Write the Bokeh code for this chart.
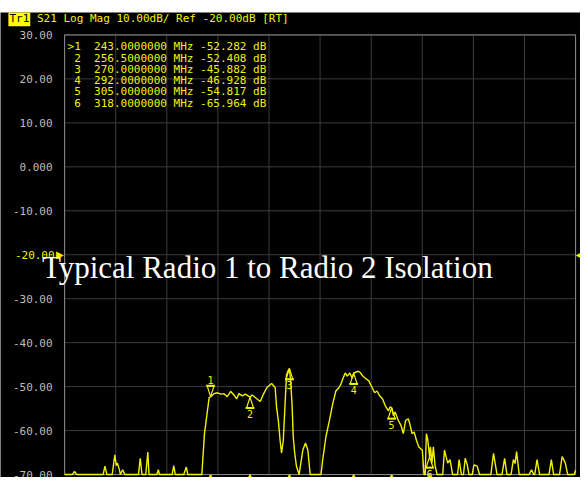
from bokeh.plotting import figure
from bokeh.models import Label, Range1d, ColumnDataSource
from bokeh.core.properties import value
from bokeh.embed import file_html
from bokeh.resources import INLINE

# ---------------- data ----------------
freq_start, freq_stop = 193.0, 368.0
db_top, db_bottom = 30.0, -70.0

y_ticks = [30, 20, 10, 0, -10, -20, -30, -40, -50, -60, -70]
y_tick_labels = ["30.00", "20.00", "10.00", "0.000", "-10.00", "-20.00",
                 "-30.00", "-40.00", "-50.00", "-60.00", "-70.00"]
ref_level = -20
x_divisions = 10

trace_freq = [
    193.0, 195.6, 196.4, 197.2, 206.2, 206.8, 207.5, 209.3, 210.2, 210.7,
    211.1, 211.8, 212.1, 212.9, 213.6, 218.3, 218.9, 219.5, 220.8, 221.5,
    221.9, 224.6, 225.1, 225.5, 229.8, 230.4, 230.9, 233.8, 234.7, 235.2,
    240.0, 240.9, 242.5, 243.0, 244.2, 245.4, 246.5, 247.6, 248.7, 249.9,
    251.0, 251.9, 252.7, 253.8, 254.9, 256.5, 257.2, 258.0, 258.9, 260.0,
    261.1, 262.3, 263.9, 265.1, 265.6, 266.2, 266.8, 267.3, 267.9, 268.5,
    269.0, 269.6, 270.0, 270.4, 270.9, 271.3, 271.8, 272.4, 273.3, 274.6,
    275.5, 276.3, 277.1, 280.8, 281.4, 282.5, 283.7, 284.8, 285.9, 287.0,
    287.6, 288.2, 289.1, 289.8, 290.7, 291.5, 292.0, 293.6, 294.4, 295.1,
    296.0, 297.2, 298.3, 299.2, 300.0, 300.9, 301.9, 302.8, 303.9, 304.5,
    305.0, 305.6, 306.2, 307.3, 308.2, 309.0, 309.8, 310.7, 311.2, 312.0,
    312.7, 313.5, 314.3, 315.2, 315.5, 316.1, 316.5, 316.9, 317.4, 318.0,
    318.3, 318.8, 319.3, 319.9, 320.6, 322.5, 323.1, 324.2, 325.0, 325.9,
    327.6, 328.1, 328.9, 329.6, 330.2, 330.9, 331.5, 332.6, 333.2, 334.3,
    335.1, 339.0, 339.9, 341.1, 342.8, 343.7, 344.5, 345.9, 346.7, 347.3,
    347.8, 348.7, 352.1, 352.9, 353.7, 354.0, 354.8, 355.7, 358.9, 359.7,
    360.5, 362.5, 363.4, 364.5, 365.3, 367.5, 368.0,
]
trace_db = [
    -70, -70, -69.3, -70, -70, -68.1, -70, -70, -65.5, -68.0,
    -67.4, -69.0, -70, -68.9, -70, -70, -66.3, -70, -70, -64.9,
    -70, -70, -68.9, -70, -70, -68.0, -70, -70, -68.3, -70,
    -70, -60.7, -52.5, -52.3, -51.6, -51.4, -51.7, -51.6, -52.3, -51.1,
    -51.9, -52.8, -51.6, -52.1, -51.7, -52.4, -51.9, -52.3, -52.8, -53.4,
    -51.7, -50.2, -49.3, -50.2, -54.7, -57.7, -62.2, -65.1, -62.2, -54.0,
    -47.3, -46.3, -45.9, -48.7, -54.0, -61.4, -65.1, -68.1, -70, -64.4,
    -62.8, -64.4, -70, -70, -66.6, -61.4, -57.7, -54.0, -51.0, -50.2,
    -49.5, -48.4, -46.9, -47.6, -46.9, -48.1, -46.9, -46.5, -46.9, -47.6,
    -48.1, -48.7, -50.2, -51.4, -51.0, -52.1, -52.8, -54.3, -55.5, -54.6,
    -54.8, -56.6, -55.8, -57.7, -58.8, -60.7, -57.7, -57.3, -58.4, -60.7,
    -60.3, -62.2, -63.7, -64.3, -64.4, -70, -70, -60.7, -62.2, -66.0,
    -63.7, -67.4, -63.7, -68.1, -70, -70, -64.4, -67.4, -66.6, -70,
    -70, -66.6, -70, -70, -66.3, -67.8, -70, -70, -67.8, -68.1,
    -70, -70, -65.2, -70, -70, -66.3, -70, -70, -66.6, -67.5,
    -64.8, -70, -70, -68.9, -70, -70, -66.6, -70, -70, -66.6,
    -70, -70, -65.9, -67.4, -70, -70, -69.0,
]

marker_ids = [1, 2, 3, 4, 5, 6]
marker_freq = [243.0, 256.5, 270.0, 292.0, 305.0, 318.0]
marker_db = [-52.282, -52.408, -45.882, -46.928, -54.817, -65.964]

header_tag = "Tr1"
header_text = "S21 Log Mag 10.00dB/ Ref -20.00dB [RT]"
title_text = "Typical Radio 1 to Radio 2 Isolation"

# ---------------- layout (reference-pixel helpers) ----------------
W, H = 580, 477            # canvas size (reference image is 588 x 485)
REF_W, REF_H = 588, 485
BOX_L, BOX_R, BOX_T, BOX_B = 65, 583, 35, 482   # graticule box in reference px
TOP_WHITE = 12             # white strip at the top of the canvas

MHZ_PX = (freq_stop - freq_start) / (BOX_R - BOX_L)
DB_PX = (db_top - db_bottom) / (BOX_B - BOX_T)


def fx(rx):
    return freq_start + (rx - BOX_L) * MHZ_PX


def fy(ry):
    return db_top - (ry - BOX_T) * DB_PX


top_ref = TOP_WHITE * REF_H / H

YEL = "#f2f200"
GRID = "#3c3c3c"
BORDER = "#8a8a8a"
MONO = "DejaVu Sans Mono"
NB = "\u00a0"

p = figure(width=W, height=H, output_backend="svg", toolbar_location=None,
           x_range=Range1d(fx(0), fx(REF_W)),
           y_range=Range1d(fy(REF_H), fy(top_ref)),
           x_axis_location=None, y_axis_location=None,
           min_border_left=0, min_border_right=0,
           min_border_top=TOP_WHITE, min_border_bottom=0,
           background_fill_color="black", border_fill_color="white")
p.outline_line_color = None
p.grid.visible = False

# graticule
x_grid = [freq_start + i * (freq_stop - freq_start) / x_divisions for i in range(x_divisions + 1)]
p.segment(x0=x_grid, y0=[db_bottom] * len(x_grid), x1=x_grid, y1=[db_top] * len(x_grid),
          line_color=GRID, line_width=1)
p.segment(x0=[freq_start] * len(y_ticks), y0=y_ticks, x1=[freq_stop] * len(y_ticks), y1=y_ticks,
          line_color=GRID, line_width=1)
p.quad(left=[freq_start], right=[freq_stop], bottom=[db_bottom], top=[db_top],
       fill_alpha=0, line_color=BORDER, line_width=1)

# y tick labels
lab_y = [v for v in y_ticks if v != ref_level]
lab_t = [t for v, t in zip(y_ticks, y_tick_labels) if v != ref_level]
p.text(x=[freq_start] * len(lab_y), y=lab_y, text=lab_t, x_offset=-12,
       text_align="right", text_baseline="middle", text_color="#bdbdbd",
       text_font=value(MONO), text_font_size="11px")

# reference level label and arrows
p.add_layout(Label(x=freq_start, y=ref_level, x_offset=-10,
                   text=y_tick_labels[y_ticks.index(ref_level)],
                   text_align="right", text_baseline="middle", text_color=YEL,
                   text_font=MONO, text_font_size="11px"))
p.add_layout(Label(x=freq_start, y=ref_level, x_offset=-1, text="\u25B6",
                   text_align="right", text_baseline="middle", text_color=YEL,
                   text_font="DejaVu Sans", text_font_size="10px"))
p.add_layout(Label(x=freq_stop, y=ref_level, x_offset=0, text="\u25C0",
                   text_align="left", text_baseline="middle", text_color=YEL,
                   text_font="DejaVu Sans", text_font_size="10px"))

# trace
p.line(trace_freq, trace_db, line_color=YEL, line_width=1.4)

# header
p.add_layout(Label(x=fx(8), y=fy(18.5), text=header_tag, text_align="left",
                   text_baseline="middle", text_color="black",
                   background_fill_color="#ffff00", padding=1,
                   text_font=MONO, text_font_size="11px"))
p.add_layout(Label(x=fx(37), y=fy(18.5), text=header_text.replace(" ", NB), text_align="left",
                   text_baseline="middle", text_color=YEL,
                   text_font=MONO, text_font_size="11px"))

# marker table
rows = []
for i, (mid, f, v) in enumerate(zip(marker_ids, marker_freq, marker_db)):
    s = f"{'>' if i == 0 else ' '}{mid}  {f:.7f} MHz {v:.3f} dB"
    rows.append(s.replace(" ", NB))
row_y = [fy(47 + 11.5 * i) for i in range(len(rows))]
p.text(x=[fx(68)] * len(rows), y=row_y, text=rows, text_color=YEL,
       text_font=value(MONO), text_font_size="11px",
       text_align="left", text_baseline="middle")

# marker symbols
tri_h = 11 * DB_PX
tri_w = 3.5 * MHZ_PX
bar_w = 4.5 * MHZ_PX
xs, ys, bx0, bx1, by, nt, noff, nbase = [], [], [], [], [], [], [], []
for i, (mid, f, v) in enumerate(zip(marker_ids, marker_freq, marker_db)):
    d = 1 if i == 0 else -1   # active marker drawn above the trace
    base = v + d * tri_h
    xs.append([f - tri_w, f + tri_w, f])
    ys.append([base, base, v])
    bx0.append(f - bar_w)
    bx1.append(f + bar_w)
    by.append(base)
    nt.append(str(mid))
    noff.append(-2 if d == 1 else 2)
    nbase.append("bottom" if d == 1 else "top")
p.patches(xs, ys, fill_alpha=0, line_color=YEL, line_width=1.2)
p.segment(x0=bx0, y0=by, x1=bx1, y1=by, line_color=YEL, line_width=2)
src = ColumnDataSource(dict(x=marker_freq, y=by, t=nt, off=noff, bl=nbase))
p.text(x="x", y="y", text="t", y_offset="off", text_baseline="bl", source=src,
       text_color=YEL, text_font=value(MONO), text_font_size="10px",
       text_align="center")
# marker stimulus indicators on the bottom edge
p.scatter(marker_freq, [db_bottom - 3 * DB_PX] * len(marker_freq), marker="triangle",
          size=5, fill_color=YEL, line_color=YEL)

# title overlay
p.add_layout(Label(x=fx(42), y=fy(271), text=title_text, text_align="left",
                   text_baseline="alphabetic", text_color="white",
                   text_font="Liberation Serif", text_font_size="31px"))

open("out.html", "w").write(file_html(p, INLINE))
